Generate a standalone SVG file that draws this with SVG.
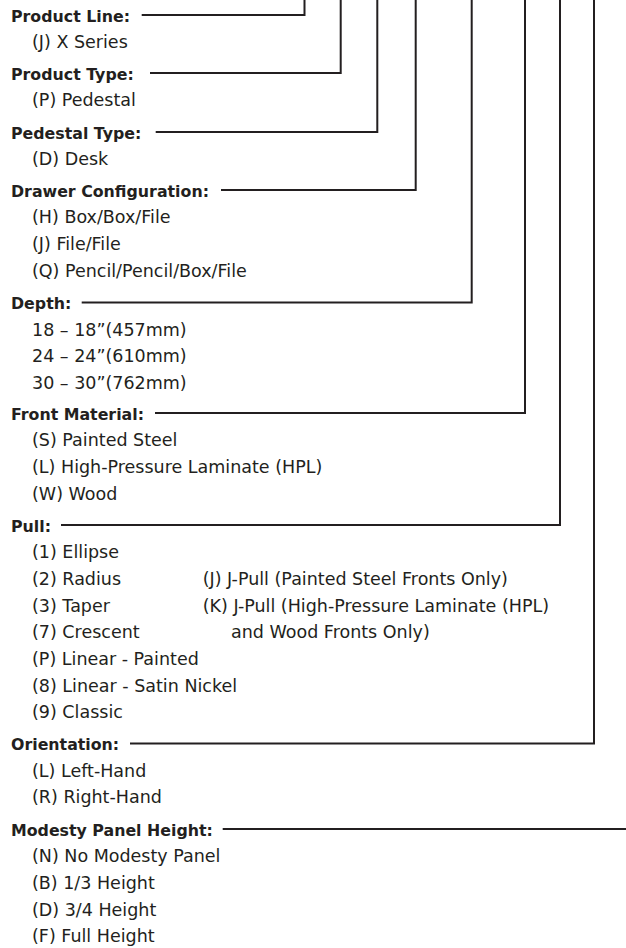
<svg xmlns="http://www.w3.org/2000/svg" width="626" height="948" viewBox="0 0 626 948">
<style>
.h{font-family:"DejaVu Sans","Liberation Sans",sans-serif;font-weight:bold;font-size:15.8px;fill:#231f20}
.o{font-family:"DejaVu Sans","Liberation Sans",sans-serif;font-size:17.5px;fill:#231f20}
.c{fill:none;stroke:#231f20;stroke-width:2}
</style>
<rect width="626" height="948" fill="#ffffff"/>
<g id="connectors">
<path class="c" d="M141.7 15 H304.5 V0"/>
<path class="c" d="M150 73 H340.7 V0"/>
<path class="c" d="M155.7 132 H377.3 V0"/>
<path class="c" d="M221 190 H415.7 V0"/>
<path class="c" d="M81.7 302.5 H471.7 V0"/>
<path class="c" d="M155 413 H525 V0"/>
<path class="c" d="M61 525 H560 V0"/>
<path class="c" d="M130 743.5 H594 V0"/>
<path class="c" d="M222.7 829 H626"/>
</g>
<g id="product-line">
<text class="h" x="11" y="21.5">Product Line:</text>
<text class="o" x="32" y="48.2">(J) X Series</text>
</g>
<g id="product-type">
<text class="h" x="11" y="79.5">Product Type:</text>
<text class="o" x="32" y="106.2">(P) Pedestal</text>
</g>
<g id="pedestal-type">
<text class="h" x="11" y="138.5">Pedestal Type:</text>
<text class="o" x="32" y="165.2">(D) Desk</text>
</g>
<g id="drawer-configuration">
<text class="h" x="11" y="196.5">Drawer Configuration:</text>
<text class="o" x="32" y="223.2">(H) Box/Box/File</text>
<text class="o" x="32" y="249.9">(J) File/File</text>
<text class="o" x="32" y="276.6">(Q) Pencil/Pencil/Box/File</text>
</g>
<g id="depth">
<text class="h" x="11" y="309">Depth:</text>
<text class="o" x="32" y="335.7">18 – 18”(457mm)</text>
<text class="o" x="32" y="362.4">24 – 24”(610mm)</text>
<text class="o" x="32" y="389.1">30 – 30”(762mm)</text>
</g>
<g id="front-material">
<text class="h" x="11" y="419.5">Front Material:</text>
<text class="o" x="32" y="446.2">(S) Painted Steel</text>
<text class="o" x="32" y="472.9">(L) High-Pressure Laminate (HPL)</text>
<text class="o" x="32" y="499.6">(W) Wood</text>
</g>
<g id="pull">
<text class="h" x="11" y="531.5">Pull:</text>
<text class="o" x="32" y="558.2">(1) Ellipse</text>
<text class="o" x="32" y="584.9">(2) Radius</text>
<text class="o" x="32" y="611.6">(3) Taper</text>
<text class="o" x="32" y="638.3">(7) Crescent</text>
<text class="o" x="32" y="665">(P) Linear - Painted</text>
<text class="o" x="32" y="691.7">(8) Linear - Satin Nickel</text>
<text class="o" x="32" y="718.4">(9) Classic</text>
<text class="o" x="202.7" y="584.9">(J) J-Pull (Painted Steel Fronts Only)</text>
<text class="o" x="202.7" y="611.6">(K) J-Pull (High-Pressure Laminate (HPL)</text>
<text class="o" x="231" y="638.3">and Wood Fronts Only)</text>
</g>
<g id="orientation">
<text class="h" x="11" y="750">Orientation:</text>
<text class="o" x="32" y="776.7">(L) Left-Hand</text>
<text class="o" x="32" y="803.4">(R) Right-Hand</text>
</g>
<g id="modesty-panel-height">
<text class="h" x="11" y="835.5">Modesty Panel Height:</text>
<text class="o" x="32" y="862.2">(N) No Modesty Panel</text>
<text class="o" x="32" y="888.9">(B) 1/3 Height</text>
<text class="o" x="32" y="915.6">(D) 3/4 Height</text>
<text class="o" x="32" y="942.3">(F) Full Height</text>
</g>
</svg>
